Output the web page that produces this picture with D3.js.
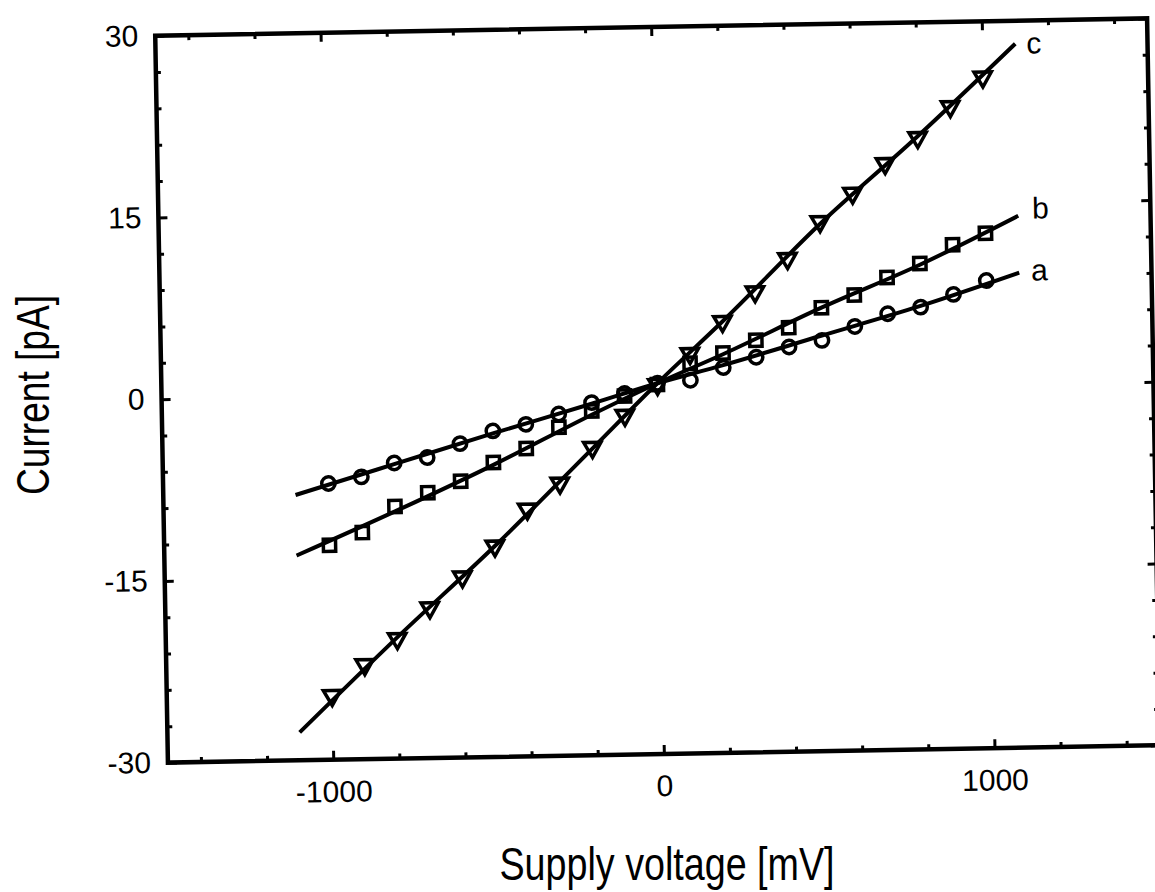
<!DOCTYPE html>
<html>
<head>
<meta charset="utf-8">
<script src="https://cdn.jsdelivr.net/npm/d3@7"></script>
<style>
  body { margin: 0; background: #fff; }
  svg { display: block; }
  .tick-label { font-family: "Liberation Sans", Arial, sans-serif; font-size: 30px; fill: #000; }
  .title { font-family: "Liberation Sans", Arial, sans-serif; font-size: 46px; fill: #000; }
</style>
</head>
<body>
<svg id="iv-chart" width="1155" height="892"></svg>
<script>
// measured points, every 100 mV
const voltage = [-1000, -900, -800, -700, -600, -500, -400, -300, -200, -100, 0,
                 100, 200, 300, 400, 500, 600, 700, 800, 900, 1000];
const currentA = [-7.2, -6.7, -5.6, -5.2, -4.1, -3.1, -2.6, -1.8, -0.9, -0.2, 0.6,
                  0.8, 1.8, 2.6, 3.4, 3.9, 5.0, 6.0, 6.5, 7.5, 8.6];
const currentB = [-12.3, -11.3, -9.2, -8.1, -7.2, -5.7, -4.6, -2.9, -1.6, -0.4, 0.5,
                  2.2, 3.0, 4.0, 5.0, 6.6, 7.6, 9.0, 10.1, 11.6, 12.5];
const currentC = [-24.7, -22.2, -20.1, -17.6, -15.1, -12.6, -9.6, -7.5, -4.6, -2.0, 0.5,
                  3.0, 5.6, 8.0, 10.7, 13.7, 16.0, 18.4, 20.5, 23.0, 25.4];

// fitted curves
const fitVoltage = [-1100, -800, -500, -200, 0, 200, 500, 800, 1100];
const fitA = [-8.1, -5.7, -3.3, -1.0, 0.6, 2.0, 4.3, 6.6, 9.2];
const fitB = [-13.1, -9.6, -5.9, -1.9, 0.6, 2.9, 6.6, 10.0, 13.9];
const fitC = [-27.7, -20.0, -12.6, -4.7, 0.6, 5.6, 13.5, 20.6, 28.1];

const seriesNames = ["a", "b", "c"];
const seriesSymbols = ["circle", "square", "triangle"];

// axes
const xDomain = [-1500, 1500];
const yDomain = [-30, 30];
const xMajorTicks = [-1000, 0, 1000];
const xMinorTicks = [-1400, -1200, -800, -600, -400, -200, 200, 400, 600, 800, 1200, 1400];
const yMajorTicks = [-30, -15, 0, 15, 30];
const yMinorTicks = [-27, -24, -21, -18, -12, -9, -6, -3, 3, 6, 9, 12, 18, 21, 24, 27];
const xTitle = "Supply voltage [mV]";
const yTitle = "Current [pA]";

const svg = d3.select("#iv-chart");
const width = +svg.attr("width");
const height = +svg.attr("height");

const frame = { left: 161.5, right: 1153.5, top: 27, bottom: 754 };
const cx = (frame.left + frame.right) / 2;
const cy = (frame.top + frame.bottom) / 2;

const x = d3.scaleLinear().domain(xDomain).range([frame.left, frame.right]);
const y = d3.scaleLinear().domain(yDomain).range([frame.bottom, frame.top]);

// the scanned figure sits slightly tilted
const chart = svg.append("g").attr("transform", `rotate(-1, ${cx}, ${cy})`);

const majorLen = 9;
const minorLen = 5;

const drawAxis = (axisFn, pos, values, len, pad) => {
    const g = chart.append("g")
        .attr("transform", pos)
        .call(axisFn.tickValues(values).tickSize(-len)
            .tickPadding(pad || 0)
            .tickFormat(pad ? (d => String(d)) : ""));
    g.select(".domain").remove();
    g.selectAll("line").attr("stroke", "#000").attr("stroke-width", 3);
    g.selectAll("text").attr("class", "tick-label");
    g.attr("font-size", null).attr("font-family", null);
    return g;
};

drawAxis(d3.axisBottom(x), `translate(0,${frame.bottom})`, xMajorTicks, majorLen, 21);
drawAxis(d3.axisBottom(x), `translate(0,${frame.bottom})`, xMinorTicks, minorLen);
drawAxis(d3.axisTop(x), `translate(0,${frame.top})`, xMajorTicks, majorLen);
drawAxis(d3.axisTop(x), `translate(0,${frame.top})`, xMinorTicks, minorLen);
drawAxis(d3.axisLeft(y), `translate(${frame.left},0)`, yMajorTicks, majorLen, 17);
drawAxis(d3.axisLeft(y), `translate(${frame.left},0)`, yMinorTicks, minorLen);
drawAxis(d3.axisRight(y), `translate(${frame.right},0)`, yMajorTicks, majorLen);
drawAxis(d3.axisRight(y), `translate(${frame.right},0)`, yMinorTicks, minorLen);

chart.append("rect")
    .attr("x", frame.left)
    .attr("y", frame.top)
    .attr("width", frame.right - frame.left)
    .attr("height", frame.bottom - frame.top)
    .attr("fill", "none")
    .attr("stroke", "#000")
    .attr("stroke-width", 4.5);

// fitted lines
const line = d3.line()
    .x(d => x(d[0]))
    .y(d => y(d[1]))
    .curve(d3.curveMonotoneX);

const fits = [fitA, fitB, fitC];
const measured = [currentA, currentB, currentC];
const labelOffsets = [[12, 8], [14, 3], [11, 10]];

fits.forEach((fit, i) => {
    const pts = fitVoltage.map((v, j) => [v, fit[j]]);
    chart.append("path")
        .datum(pts)
        .attr("fill", "none")
        .attr("stroke", "#000")
        .attr("stroke-width", 4)
        .attr("d", line);

    const last = pts[pts.length - 1];
    chart.append("text")
        .attr("class", "tick-label")
        .attr("x", x(last[0]) + labelOffsets[i][0])
        .attr("y", y(last[1]) + labelOffsets[i][1])
        .text(seriesNames[i]);
});

// markers
const symbolTypes = {
    circle: d3.symbol().type(d3.symbolCircle).size(140),
    square: d3.symbol().type(d3.symbolSquare).size(150),
    triangle: d3.symbol().type(d3.symbolTriangle).size(130)
};

measured.forEach((vals, i) => {
    const sym = seriesSymbols[i];
    chart.append("g")
        .selectAll("path")
        .data(voltage.map((v, j) => [v, vals[j]]))
        .enter().append("path")
            .attr("d", symbolTypes[sym])
            .attr("transform", d => `translate(${x(d[0])},${y(d[1])})` + (sym === "triangle" ? " rotate(180)" : ""))
            .attr("fill", "none")
            .attr("stroke", "#000")
            .attr("stroke-width", 3.5);
});

// axis titles (the original lettering is a narrow face)
svg.append("text")
    .attr("class", "title")
    .attr("x", 667)
    .attr("y", 880)
    .attr("text-anchor", "middle")
    .attr("textLength", 335)
    .attr("lengthAdjust", "spacingAndGlyphs")
    .text(xTitle);

svg.append("text")
    .attr("class", "title")
    .attr("transform", "translate(49,395) rotate(-90)")
    .attr("text-anchor", "middle")
    .attr("textLength", 200)
    .attr("lengthAdjust", "spacingAndGlyphs")
    .text(yTitle);
</script>
</body>
</html>
